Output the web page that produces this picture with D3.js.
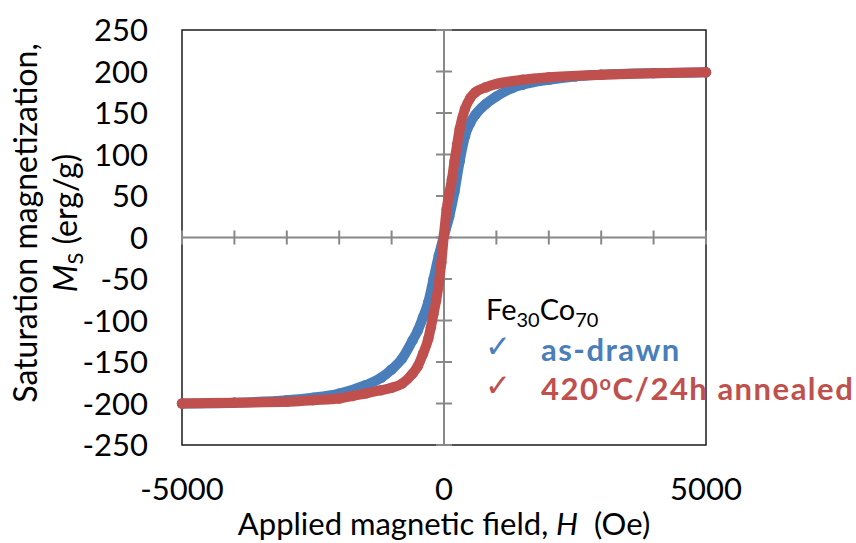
<!DOCTYPE html>
<html>
<head>
<meta charset="utf-8">
<script src="https://cdn.jsdelivr.net/npm/d3@7"></script>
<style>
  body { margin: 0; background: #fff; }
  text { font-family: Lato, "Open Sans", sans-serif; fill: #000; }
</style>
</head>
<body>
<div id="main"></div>
<script>
// as-drawn wire (blue)
const fieldDrawn = [-5000, -4000, -3000, -2500, -2000, -1500, -1200, -1000, -800, -600, -500, -400, -300, -200, -100,
  0, 100, 200, 300, 400, 500, 600, 800, 1000, 1300, 1500, 2000, 2500, 3000, 4000, 5000];
const magDrawn = [-200, -199, -196, -193, -188, -178, -169, -159, -146, -124, -112, -96, -78, -50, -22,
  2, 25, 55, 92, 122, 138, 148, 161, 170, 180, 184, 190, 194, 196, 198, 199];

// 420C / 24h annealed (red)
const fieldAnnealed = [-5000, -4000, -3000, -2500, -2000, -1750, -1500, -1200, -1000, -800, -600, -500, -400, -300, -250, -200,
  -150, -100, -50, 0, 50, 100, 150, 200, 250, 300, 400, 500, 600, 800, 1000, 1500, 2000, 3000, 4000, 5000];
const magAnnealed = [-200, -199, -198, -196, -194, -191, -188, -184, -181, -176, -164, -155, -140, -122, -108, -92,
  -76, -56, -30, 4, 34, 53, 70, 92, 112, 131, 155, 168, 175, 181, 185, 190, 193, 196, 198, 199];

const xLabels = [-5000, 0, 5000];
const yLabels = [250, 200, 150, 100, 50, 0, -50, -100, -150, -200, -250];

const W = 856, H = 543;
const margin = { top: 30, right: 150, bottom: 98, left: 182 };

const blue = '#4a7ebb', red = '#c0504d';

let svg = d3.select('div#main')
  .append('svg')
  .attr('width', W)
  .attr('height', H);

const x = d3.scaleLinear().domain([-5000, 5000]).range([margin.left, W - margin.right]);
const y = d3.scaleLinear().domain([-250, 250]).range([H - margin.bottom, margin.top]);

// plot frame
svg.append('rect')
  .attr('x', x(-5000))
  .attr('y', y(250))
  .attr('width', x(5000) - x(-5000))
  .attr('height', y(-250) - y(250))
  .attr('fill', 'none')
  .attr('stroke', '#1a1a1a')
  .attr('stroke-width', 1.5);

// axes through the origin, grey with crossing tick marks
const axisColor = '#888';
svg.append('line')
  .attr('x1', x(-5000)).attr('x2', x(5000))
  .attr('y1', y(0)).attr('y2', y(0))
  .attr('stroke', axisColor).attr('stroke-width', 2);
svg.append('line')
  .attr('x1', x(0)).attr('x2', x(0))
  .attr('y1', y(250)).attr('y2', y(-250))
  .attr('stroke', axisColor).attr('stroke-width', 2);

svg.selectAll('line.xtick')
  .data(x.ticks(10))
  .enter()
  .append('line')
    .attr('class', 'xtick')
    .attr('x1', (d) => x(d)).attr('x2', (d) => x(d))
    .attr('y1', y(0) - 7).attr('y2', y(0) + 7)
    .attr('stroke', axisColor).attr('stroke-width', 2);

svg.selectAll('line.ytick')
  .data(yLabels)
  .enter()
  .append('line')
    .attr('class', 'ytick')
    .attr('x1', x(0) - 8).attr('x2', x(0) + 8)
    .attr('y1', (d) => y(d)).attr('y2', (d) => y(d))
    .attr('stroke', axisColor).attr('stroke-width', 2);

// series: dense markers drawn as a thick round line plus dots
const line = d3.line()
  .x((d) => x(d[0]))
  .y((d) => y(d[1]))
  .curve(d3.curveMonotoneX);

function drawSeries(fields, mags, color) {
  const pts = fields.map((f, i) => [f, mags[i]]);
  svg.append('path')
    .datum(pts)
    .attr('d', line)
    .attr('fill', 'none')
    .attr('stroke', color)
    .attr('stroke-width', 10)
    .attr('stroke-linecap', 'round')
    .attr('stroke-linejoin', 'round');
  svg.append('g')
    .selectAll('circle')
    .data(pts)
    .enter()
    .append('circle')
      .attr('cx', (d) => x(d[0]))
      .attr('cy', (d) => y(d[1]))
      .attr('r', 5.2)
      .attr('fill', color);
}
drawSeries(fieldDrawn, magDrawn, blue);
drawSeries(fieldAnnealed, magAnnealed, red);

// tick labels
svg.selectAll('text.ylab')
  .data(yLabels)
  .enter()
  .append('text')
    .attr('class', 'ylab')
    .attr('x', 148)
    .attr('y', (d) => y(d) + 11)
    .attr('text-anchor', 'end')
    .style('font-size', '31px')
    .text((d) => d);

svg.selectAll('text.xlab')
  .data(xLabels)
  .enter()
  .append('text')
    .attr('class', 'xlab')
    .attr('x', (d) => x(d))
    .attr('y', 500)
    .attr('text-anchor', 'middle')
    .style('font-size', '31px')
    .text((d) => d);

// axis titles
let xt = svg.append('text')
  .attr('x', x(0))
  .attr('y', 535)
  .attr('text-anchor', 'middle')
  .style('font-size', '31px');
xt.append('tspan').text('Applied magnetic field, ');
xt.append('tspan').style('font-style', 'italic').text('H');
xt.append('tspan').text('\u00a0 (Oe)');

let yt = svg.append('g').attr('transform', 'translate(0,223) rotate(-90)');
yt.append('text')
  .attr('x', 0).attr('y', 37)
  .attr('text-anchor', 'middle')
  .style('font-size', '32px')
  .text('Saturation magnetization,');
let yt2 = yt.append('text')
  .attr('x', 0).attr('y', 77)
  .attr('text-anchor', 'middle')
  .style('font-size', '32px');
yt2.append('tspan').style('font-style', 'italic').text('M');
yt2.append('tspan').attr('dy', 6).style('font-size', '22px').text('S');
yt2.append('tspan').attr('dy', -6).text(' (erg/g)');

// legend
let title = svg.append('text')
  .attr('x', 486).attr('y', 320)
  .style('font-size', '29px');
title.append('tspan').text('Fe');
title.append('tspan').attr('dy', 7).style('font-size', '20px').text('30');
title.append('tspan').attr('dy', -7).text('Co');
title.append('tspan').attr('dy', 7).style('font-size', '20px').text('70');

const legendItems = [
  { label: 'as-drawn', color: blue, yy: 361 },
  { label: '420', sup: 'o', rest: 'C/24h annealed', color: red, yy: 400 }
];
legendItems.forEach((it) => {
  svg.append('text')
    .attr('x', 485).attr('y', it.yy - 4)
    .style('font-family', '"DejaVu Sans", sans-serif')
    .style('font-size', '31px')
    .style('fill', it.color)
    .text('\u2713');
  let t = svg.append('text')
    .attr('x', 541).attr('y', it.yy)
    .style('font-size', '31px')
    .style('font-weight', 'bold')
    .style('letter-spacing', '1.5px')
    .style('fill', it.color);
  t.append('tspan').text(it.label);
  if (it.sup) {
    t.append('tspan').attr('dy', -10).style('font-size', '20px').text(it.sup);
    t.append('tspan').attr('dy', 10).text(it.rest);
  }
});
</script>
</body>
</html>
